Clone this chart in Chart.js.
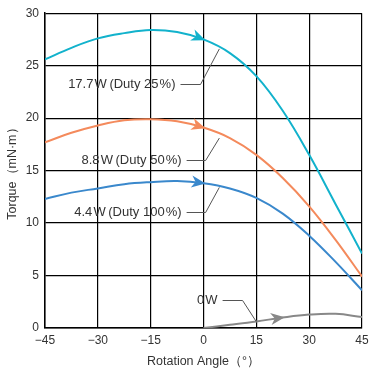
<!DOCTYPE html>
<html>
<head>
<meta charset="utf-8">
<script src="https://cdn.jsdelivr.net/npm/chart.js@4.4.0/dist/chart.umd.min.js"></script>
<style>
  html, body { margin: 0; padding: 0; background: #fff; }
  #wrap { width: 375px; height: 374px; }
</style>
</head>
<body>
<div id="wrap"><canvas id="torqueChart" width="375" height="374"></canvas></div>
<script>
// rotation angle samples (deg)
const angles = [-45, -37.5, -30, -22.5, -15, -7.5, 0, 7.5, 15, 22.5, 30, 37.5, 45];
const angles0W = [0, 7.5, 15, 22.5, 30, 37.5, 45];

// torque in mN·m
const torque177 = [25.6, 26.7, 27.6, 28.1, 28.4, 28.2, 27.5, 26.2, 24.0, 20.7, 16.5, 11.8, 7.1];
const torque88 = [17.7, 18.6, 19.3, 19.8, 19.9, 19.7, 19.1, 18.1, 16.5, 14.3, 11.6, 8.4, 4.9];
const torque44 = [12.3, 12.9, 13.3, 13.7, 13.9, 14.0, 13.8, 13.3, 12.4, 10.9, 8.8, 6.3, 3.6];
const torque0 = [0, 0.3, 0.62, 1.0, 1.28, 1.35, 1.05];

const xTicks = [-45, -30, -15, 0, 15, 30, 45];
const yTicks = [0, 5, 10, 15, 20, 25, 30];

// label text, where the leader touches the curve, and where the label sits
const labels = [
  { text: '17.7\u200AW\u2009(Duty 25\u200A%)', curveAt: [4.5, 26.6], elbow: [-0.85, 23.3], run: 20 },
  { text: '8.8\u200AW\u2009(Duty 50\u200A%)', curveAt: [4.5, 18.1], elbow: [0.6, 16.0], run: 19 },
  { text: '4.4\u200AW\u2009(Duty 100\u200A%)', curveAt: [4.5, 13.4], elbow: [0.6, 11.1], run: 19 },
  { text: '0\u200AW', curveAt: [15, 0.6], elbow: [11.1, 2.65], run: 20 }
];

const FONT = '"Liberation Sans", Arial, sans-serif';

function toPts(xs, ys) {
  return xs.map((x, i) => ({ x: x, y: ys[i] }));
}

// arrowheads drawn at a data point of each curve, pointing along it
const arrowPlugin = {
  id: 'arrows',
  afterDatasetsDraw(chart) {
    const ctx = chart.ctx;
    const xs = chart.scales.x, ys = chart.scales.y;
    chart.data.datasets.forEach(ds => {
      const i = ds.data.findIndex(p => p.x === ds.arrowAt);
      if (i < 0) return;
      const a = ds.data[Math.max(i - 1, 0)], b = ds.data[Math.min(i + 1, ds.data.length - 1)];
      const px = xs.getPixelForValue(ds.data[i].x), py = ys.getPixelForValue(ds.data[i].y);
      const ang = Math.atan2(ys.getPixelForValue(b.y) - ys.getPixelForValue(a.y),
                             xs.getPixelForValue(b.x) - xs.getPixelForValue(a.x));
      ctx.save();
      ctx.translate(px, py);
      ctx.rotate(ang);
      ctx.fillStyle = ds.borderColor;
      ctx.beginPath();
      ctx.moveTo(2, 0);
      ctx.lineTo(-12, -6);
      ctx.lineTo(-8, 0);
      ctx.lineTo(-12, 6);
      ctx.closePath();
      ctx.fill();
      ctx.restore();
    });
  }
};

// leader lines and power labels
const labelPlugin = {
  id: 'labels',
  afterDraw(chart) {
    const ctx = chart.ctx;
    const xs = chart.scales.x, ys = chart.scales.y;
    ctx.save();
    ctx.strokeStyle = '#555';
    ctx.lineWidth = 1;
    ctx.font = '13px ' + FONT;
    ctx.fillStyle = '#333';
    ctx.textAlign = 'right';
    ctx.textBaseline = 'middle';
    labels.forEach(l => {
      const cx = xs.getPixelForValue(l.curveAt[0]), cy = ys.getPixelForValue(l.curveAt[1]);
      const ex = xs.getPixelForValue(l.elbow[0]), ey = Math.round(ys.getPixelForValue(l.elbow[1])) + 0.5;
      ctx.beginPath();
      ctx.moveTo(ex - l.run, ey);
      ctx.lineTo(ex, ey);
      ctx.lineTo(cx, cy);
      ctx.stroke();
      ctx.fillText(l.text, ex - l.run - 5, ey);
    });
    ctx.restore();
  }
};

const ctx = document.getElementById('torqueChart').getContext('2d');
new Chart(ctx, {
  type: 'line',
  data: {
    datasets: [
      { label: '17.7W', data: toPts(angles, torque177), borderColor: '#12b2cc', arrowAt: 0 },
      { label: '8.8W', data: toPts(angles, torque88), borderColor: '#f48a5c', arrowAt: 0 },
      { label: '4.4W', data: toPts(angles, torque44), borderColor: '#3a88cc', arrowAt: 0 },
      { label: '0W', data: toPts(angles0W, torque0), borderColor: '#888888', arrowAt: 22.5 }
    ].map(d => Object.assign(d, {
      borderWidth: 2,
      pointRadius: 0,
      fill: false,
      tension: 0.4
    }))
  },
  options: {
    responsive: false,
    animation: false,
    layout: { padding: { top: 12, right: 13, left: 0, bottom: 5 } },
    plugins: {
      legend: { display: false },
      tooltip: { enabled: false }
    },
    scales: {
      x: {
        type: 'linear',
        min: -45,
        max: 45,
        afterBuildTicks: s => { s.ticks = xTicks.map(v => ({ value: v })); },
        afterFit: s => { s.height = 41; },
        border: { color: '#000', width: 1.5 },
        grid: { color: '#000', lineWidth: 1.2, drawTicks: false },
        ticks: {
          color: '#333',
          font: { family: FONT, size: 12 },
          padding: 5,
          maxRotation: 0,
          callback: v => (v < 0 ? '−' + Math.abs(v) : String(v))
        },
        title: {
          display: true,
          text: 'Rotation Angle（°）',
          color: '#333',
          font: { family: FONT, size: 12.5 },
          padding: { top: 2, bottom: 0 }
        }
      },
      y: {
        min: 0,
        max: 30,
        afterBuildTicks: s => { s.ticks = yTicks.map(v => ({ value: v })); },
        afterFit: s => { s.width = 45; },
        border: { color: '#000', width: 1.5 },
        grid: { color: '#000', lineWidth: 1.2, drawTicks: false },
        ticks: {
          color: '#333',
          font: { family: FONT, size: 12 },
          padding: 6
        },
        title: {
          display: true,
          text: 'Torque（mN·m）',
          color: '#333',
          font: { family: FONT, size: 12.5 },
          padding: { top: 5, bottom: 0 }
        }
      }
    }
  },
  plugins: [arrowPlugin, labelPlugin]
});
</script>
</body>
</html>
